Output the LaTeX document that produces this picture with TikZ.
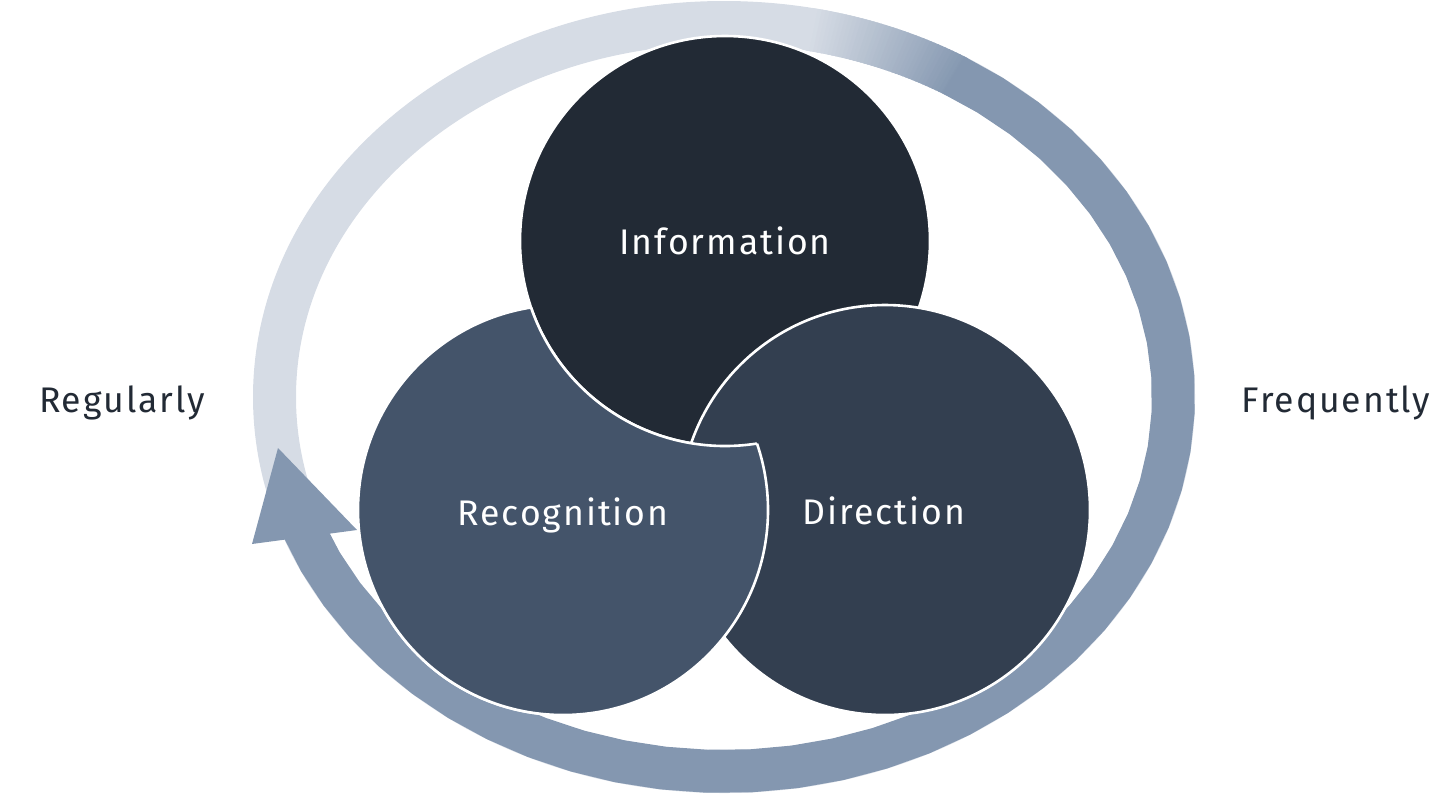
\documentclass[tikz,border=0pt]{standalone}
\usepackage{fontspec}
\setmainfont{Fira Sans}[LetterSpace=5.5]
\definecolor{ringlight}{HTML}{D6DCE5}
\definecolor{ringdark}{HTML}{8497B0}
\definecolor{cinfo}{HTML}{222A35}
\definecolor{cdir}{HTML}{333F50}
\definecolor{crec}{HTML}{44546A}
\definecolor{ctext}{HTML}{222A35}
\tikzset{
  circline/.style={draw=white, line width=1.3pt},
  intext/.style={text=white, font=\fontsize{17.8}{20}\selectfont, anchor=base, inner sep=0pt},
  outtext/.style={text=ctext, font=\fontsize{17.8}{20}\selectfont, anchor=base, inner sep=0pt},
}
\newcommand\myband[3]{%
  \fill[#1] plot[domain=#2:#3, samples=40] ({724+471*cos(\x)},{397+396*sin(\x)})
    -- plot[domain=#3:#2, samples=40] ({724+428*cos(\x)},{397+353*sin(\x)}) -- cycle;}
\begin{document}
\begin{tikzpicture}[x=0.5pt, y=-0.5pt]
\useasboundingbox (0,0) rectangle (1454,794);
% coordinates
\coordinate (ringc) at (724,397);
\coordinate (I) at (725,241);
\coordinate (R) at (563,510);
\coordinate (D) at (885,510);
\coordinate (tip) at (278,448);
\coordinate (hl) at (252,544);
\coordinate (hr) at (357,530);
% light ring
\fill[ringlight, even odd rule] (ringc) ellipse [x radius=235.5pt, y radius=198pt]
  (ringc) ellipse [x radius=214pt, y radius=176.5pt];
% gradient tail
\foreach \i in {0,...,39}{%
  \pgfmathsetmacro\ta{-79+0.5*\i}%
  \pgfmathsetmacro\tb{-78.3+0.5*\i}%
  \pgfmathtruncatemacro\p{2.5*\i}%
  \myband{ringdark!\p!ringlight}{\ta}{\tb}%
}
% dark arc
\myband{ringdark}{-59.3}{159.5}
% arrow head
\fill[ringdark] (tip) -- (hl) -- (hr) -- cycle;
% circles
\fill[crec] (R) circle[radius=102.5pt];
\draw[circline] (R) circle[radius=102.5pt];
\fill[cinfo] (I) circle[radius=102.5pt];
\draw[circline] (I) circle[radius=102.5pt];
\fill[cdir] (D) circle[radius=102.5pt];
\draw[circline] (D) circle[radius=102.5pt];
\begin{scope}[even odd rule]
  \clip (0,0) rectangle (1454,794) (I) circle[radius=102.5pt];
  \fill[crec] (R) circle[radius=102.5pt];
  \draw[circline] (R) circle[radius=102.5pt];
\end{scope}
\begin{scope}
  \clip (R) circle[radius=102.5pt];
  \draw[circline] (I) circle[radius=102.5pt];
\end{scope}
% texts
\node[intext] (tinfo) at (725,254) {Information};
\node[intext] (trec) at (563,525) {Recognition};
\node[intext] (tdir) at (884,524) {Direction};
\node[outtext] (treg) at (122,412) {Regularly};
\node[outtext] (tfreq) at (1336,412) {Frequently};
\end{tikzpicture}
\end{document}
